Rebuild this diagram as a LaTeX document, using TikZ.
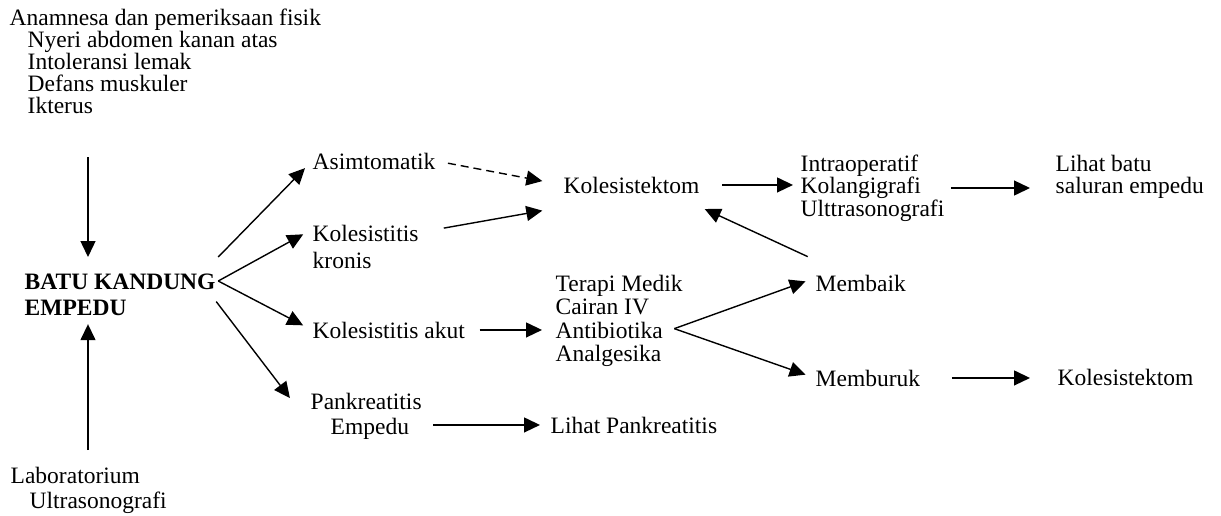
\documentclass[tikz,border=0pt]{standalone}
\usepackage{fontspec}
\setmainfont{Liberation Serif}
\usetikzlibrary{positioning, arrows.meta}

\begin{document}
\begin{tikzpicture}[x=1pt, y=-1pt, line width=1.4pt, txt/.style={inner sep=0pt, anchor=north west, align=left, font=\fontsize{23.5pt}{#1}\selectfont}, txt/.default=23pt, arr/.style={-{Triangle[length=16pt, width=15pt]}}]
		\useasboundingbox (0,0) rectangle (1221,515);
		\node[txt=22pt] (anam) at (9,8) {Anamnesa dan pemeriksaan fisik\\\hspace*{18pt}Nyeri abdomen kanan atas\\\hspace*{18pt}Intoleransi lemak\\\hspace*{18pt}Defans muskuler\\\hspace*{18pt}Ikterus};
		\node[txt=26pt, font=\fontsize{23.5pt}{26pt}\selectfont\bfseries] (batu) at (24,273) {BATU KANDUNG\\EMPEDU};
		\node[txt=25pt] (lab) at (10,466) {Laboratorium\\\hspace*{19pt}Ultrasonografi};
		\node[txt] (asim) at (312,152) {Asimtomatik};
		\node[txt=27pt] (kronis) at (312,224) {Kolesistitis\\kronis};
		\node[txt] (akut) at (312,321) {Kolesistitis akut};
		\node[txt=25pt] (pank) at (310,392) {Pankreatitis\\\hspace*{20pt}Empedu};
		\node[txt] (kol1) at (563,176) {Kolesistektom};
		\node[txt=23.5pt] (terapi) at (555,274) {Terapi Medik\\Cairan IV\\Antibiotika\\Analgesika};
		\node[txt=22.5pt] (intra) at (800,154) {Intraoperatif\\Kolangigrafi\\Ulttrasonografi};
		\node[txt=22pt] (lihatbatu) at (1055,154) {Lihat batu\\saluran empedu};
		\node[txt] (membaik) at (815,274) {Membaik};
		\node[txt] (memburuk) at (815,369) {Memburuk};
		\node[txt] (kol2) at (1057,368) {Kolesistektom};
		\node[txt] (lihatpank) at (550,416) {Lihat Pankreatitis};
		\coordinate (fan) at ([xshift=2pt, yshift=-8pt]batu.north east);
		\coordinate (split) at ([xshift=-9pt, yshift=-8pt]terapi.east);
		% diagnosis
		\draw[arr, shorten <=43pt, shorten >=16pt] ([xshift=79pt]anam.south west) -- ([xshift=64pt]batu.north west);
		\draw[arr, shorten <=16pt, shorten >=8pt] ([xshift=78pt]lab.north west) -- ([xshift=64pt]batu.south west);
		% klinis
		\draw[arr, shorten >=10pt] ([xshift=2pt, yshift=16pt]batu.north east) -- (asim.west);
		\draw[arr, shorten >=10pt] (fan) -- ([yshift=17pt]kronis.west);
		\draw[arr, shorten >=10pt] (fan) -- (akut.west);
		\draw[arr, shorten >=10pt] ([yshift=-7pt]batu.east) -- ([xshift=-14pt, yshift=-14pt]pank.north west);
		% terapi
		\draw[arr, dash pattern=on 8pt off 5pt, shorten <=12pt, shorten >=21pt] (asim.east) -- (kol1.west);
		\draw[arr, shorten <=25pt, shorten >=21pt] ([yshift=14pt]kronis.east) -- ([yshift=-22pt]kol1.west);
		\draw[arr, shorten <=14pt, shorten >=13pt] (akut.east) -- (akut.east -| terapi.west);
		\draw[arr, shorten <=22pt, shorten >=7pt] (kol1.east) -- (kol1.east -| intra.west);
		\draw[arr, shorten <=6pt, shorten >=25pt] (intra.east) -- (intra.east -| lihatbatu.west);
		\draw[arr, shorten <=8pt, shorten >=5pt] ([yshift=14pt]membaik.north west) -- ([yshift=-13pt]kol1.south east);
		\draw[arr, shorten >=10pt] (split) -- ([yshift=5pt]membaik.west);
		\draw[arr, shorten >=10pt] (split) -- (memburuk.west);
		\draw[arr, shorten <=31pt, shorten >=27pt] (memburuk.east) -- (memburuk.east -| kol2.west);
		\draw[arr, shorten <=11pt, shorten >=10pt] (lihatpank.west -| pank.east) -- (lihatpank.west);
	\end{tikzpicture}
\end{document}
